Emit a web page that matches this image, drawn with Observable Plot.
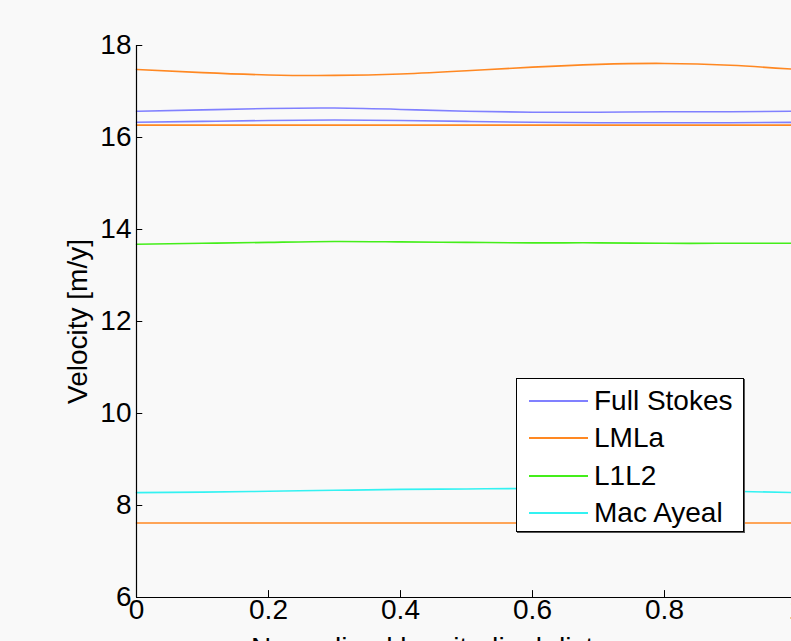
<!DOCTYPE html>
<html>
<head>
<meta charset="utf-8">
<script src="https://cdn.jsdelivr.net/npm/d3@7"></script>
<script src="https://cdn.jsdelivr.net/npm/@observablehq/plot@0.6"></script>
<style>
  html, body { margin: 0; padding: 0; background: #f9f9f9; overflow: hidden; }
  #wrap { position: relative; width: 791px; height: 641px; overflow: hidden; }
  #wrap svg { max-width: none !important; width: 830px !important; height: 690px !important; display: block; }
  #legend {
    position: absolute; left: 516px; top: 378px; width: 226px; height: 152px;
    background: #ffffff; border: 1px solid #000; box-shadow: 1px 1px 0 #555;
    font-family: "Liberation Sans", Arial, sans-serif; font-size: 28px; color: #000;
  }
  #legend .row { position: absolute; left: 12px; height: 30px; display: flex; align-items: center; }
  #legend .swatch { width: 59px; height: 0; border-top: 2px solid; margin-right: 6px; }
</style>
</head>
<body>
<div id="wrap"><div id="legend"></div></div>
<script>
// Normalized longitudinal position of each sample
const xs = [0, 0.1, 0.2, 0.3, 0.4, 0.5, 0.6, 0.7, 0.8, 0.9, 1.0];

// Velocity profiles [m/y]
const fullStokesUpper = [16.57, 16.60, 16.63, 16.64, 16.61, 16.57, 16.55, 16.55, 16.56, 16.56, 16.57];
const fullStokesLower = [16.33, 16.35, 16.37, 16.38, 16.37, 16.35, 16.33, 16.32, 16.32, 16.32, 16.33];
const lmlaUpper = [17.48, 17.41, 17.36, 17.35, 17.38, 17.45, 17.53, 17.59, 17.61, 17.57, 17.48];
const lmlaMiddle = [16.27, 16.27, 16.27, 16.27, 16.27, 16.27, 16.27, 16.27, 16.27, 16.27, 16.27];
const lmlaLower = [7.62, 7.62, 7.62, 7.62, 7.62, 7.62, 7.62, 7.62, 7.62, 7.62, 7.62];
const l1l2 = [13.68, 13.70, 13.72, 13.74, 13.73, 13.72, 13.71, 13.71, 13.70, 13.70, 13.70];
const macAyeal = [8.28, 8.29, 8.31, 8.33, 8.35, 8.36, 8.37, 8.36, 8.34, 8.31, 8.28];

const models = ["Full Stokes", "LMLa", "L1L2", "Mac Ayeal"];
const modelColors = ["#8080ff", "#ff8822", "#44ee1a", "#33f2f2"];

const xTicks = [0, 0.2, 0.4, 0.6, 0.8, 1];
const yTicks = [6, 8, 10, 12, 14, 16, 18];

const curves = [
  ["Full Stokes", "fs-upper", fullStokesUpper],
  ["Full Stokes", "fs-lower", fullStokesLower],
  ["LMLa", "lmla-upper", lmlaUpper],
  ["LMLa", "lmla-middle", lmlaMiddle],
  ["LMLa", "lmla-lower", lmlaLower],
  ["L1L2", "l1l2", l1l2],
  ["Mac Ayeal", "macayeal", macAyeal]
];
const rows = curves.flatMap(([model, id, ys]) => ys.map((v, i) => ({model, id, x: xs[i], v})));

const font = "Liberation Sans, Arial, sans-serif";

const chart = Plot.plot({
  width: 830,
  height: 690,
  marginLeft: 136,
  marginRight: 34,
  marginTop: 45,
  marginBottom: 93,
  style: {background: "#f9f9f9", fontFamily: font, fontSize: "28px", color: "#000", overflow: "visible"},
  x: {domain: [0, 1]},
  y: {domain: [6, 18]},
  color: {domain: models, range: modelColors},
  marks: [
    Plot.line(rows, {x: "x", y: "v", z: "id", stroke: "model", strokeWidth: 1.6, curve: "natural"}),
    // axis lines
    Plot.ruleX([0], {y1: 6, y2: 18, stroke: "#000", strokeWidth: 1.2}),
    Plot.ruleY([6], {stroke: "#000", strokeWidth: 1.2}),
    // inward tick marks
    Plot.ruleY(yTicks, {y: d => d, x1: 0, x2: 0.0095, stroke: "#000", strokeWidth: 1}),
    Plot.ruleX(xTicks, {x: d => d, y1: 6, y2: 6.15, stroke: "#000", strokeWidth: 1}),
    // tick labels
    Plot.axisY(yTicks, {tickSize: 0, tickPadding: 5, label: null, fontSize: 28}),
    Plot.axisX(xTicks, {tickSize: 0, tickPadding: 2, label: null, fontSize: 28, tickFormat: d => String(d)}),
    // axis titles
    Plot.text(["Velocity [m/y]"], {frameAnchor: "left", textAnchor: "middle", dx: -58, rotate: -90, fontSize: 28}),
    Plot.text(["Normalized longitudinal distance"], {frameAnchor: "bottom", textAnchor: "middle", dx: -14, dy: 59, fontSize: 28})
  ]
});

const wrap = document.getElementById("wrap");
wrap.insertBefore(chart, wrap.firstChild);

// legend entries
const legend = document.getElementById("legend");
models.forEach((m, i) => {
  const row = document.createElement("div");
  row.className = "row";
  row.style.top = (7 + i * 37.3) + "px";
  const sw = document.createElement("span");
  sw.className = "swatch";
  sw.style.borderTopColor = modelColors[i];
  const label = document.createElement("span");
  label.textContent = m;
  row.appendChild(sw);
  row.appendChild(label);
  legend.appendChild(row);
});
</script>
</body>
</html>
